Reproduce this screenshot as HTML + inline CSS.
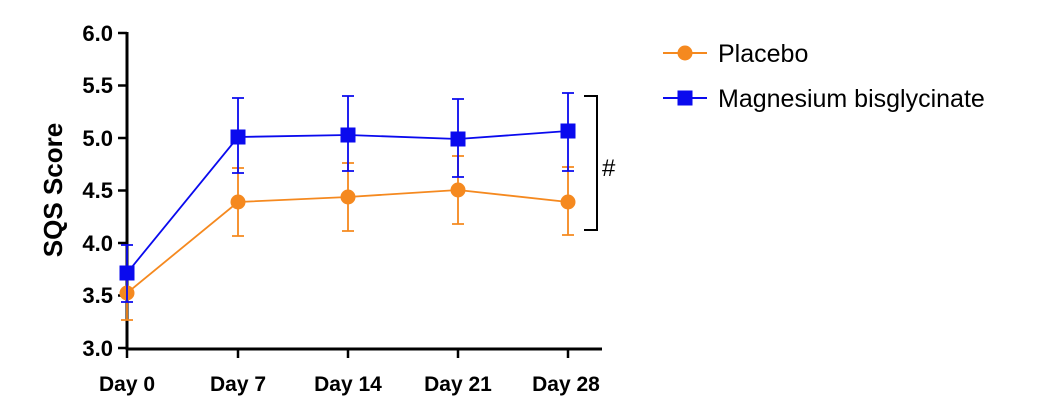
<!DOCTYPE html>
<html><head><style>body{margin:0;background:#fff}</style></head><body>
<svg width="1040" height="408" xmlns="http://www.w3.org/2000/svg" font-family="Liberation Sans, Arial, sans-serif">
<g stroke="#000" stroke-width="3" fill="none">
<line x1="127" y1="32" x2="127" y2="350"/>
<line x1="126" y1="349" x2="602" y2="349"/>
<g stroke-width="2.5">
<line x1="118" y1="33" x2="127" y2="33"/><line x1="118" y1="85.5" x2="127" y2="85.5"/><line x1="118" y1="138" x2="127" y2="138"/><line x1="118" y1="190.5" x2="127" y2="190.5"/><line x1="118" y1="243" x2="127" y2="243"/><line x1="118" y1="295.5" x2="127" y2="295.5"/><line x1="118" y1="348" x2="127" y2="348"/>
<line x1="127" y1="349" x2="127" y2="358"/><line x1="238" y1="349" x2="238" y2="358"/><line x1="348" y1="349" x2="348" y2="358"/><line x1="458" y1="349" x2="458" y2="358"/><line x1="568" y1="349" x2="568" y2="358"/>
</g>
<polyline stroke-width="2" points="584,96 597,96 597,230 584,230"/>
</g>
<g font-size="22" font-weight="bold" text-anchor="end" fill="#000">
<text x="113" y="41">6.0</text><text x="113" y="93">5.5</text><text x="113" y="146">5.0</text><text x="113" y="198">4.5</text><text x="113" y="251">4.0</text><text x="113" y="303">3.5</text><text x="113" y="356">3.0</text>
</g>
<g font-size="21" font-weight="bold" text-anchor="middle">
<text x="127" y="391">Day 0</text><text x="238" y="391">Day 7</text><text x="348" y="391">Day 14</text><text x="458" y="391">Day 21</text><text x="566" y="391">Day 28</text>
</g>
<text transform="translate(62,190) rotate(-90)" font-size="26" font-weight="bold" text-anchor="middle">SQS Score</text>
<text x="602" y="176" font-size="24">#</text>
<!-- placebo -->
<g stroke="#f5891f" stroke-width="1.8" fill="none">
<path d="M127,320V267M121,320h12M121,267h12 M238,236V168M232,236h12M232,168h12 M348,231V163M342,231h12M342,163h12 M458,224V156M452,224h12M452,156h12 M568,235V167M562,235h12M562,167h12"/>
<polyline points="127,293 238,202 348,197 458,190 568,202"/>
</g>
<g fill="#f5891f"><circle cx="127" cy="293" r="7.5"/><circle cx="238" cy="202" r="7.5"/><circle cx="348" cy="197" r="7.5"/><circle cx="458" cy="190" r="7.5"/><circle cx="568" cy="202" r="7.5"/></g>
<!-- mg -->
<g stroke="#0a0aee" stroke-width="1.8" fill="none">
<path d="M127,302V245M121,302h12M121,245h12 M238,173V98M232,173h12M232,98h12 M348,171V96M342,171h12M342,96h12 M458,177V99M452,177h12M452,99h12 M568,171V93M562,171h12M562,93h12"/>
<polyline points="127,273 238,137 348,135 458,139 568,131"/>
</g>
<g fill="#0a0aee"><rect x="119.5" y="265.5" width="15" height="15"/><rect x="230.5" y="129.5" width="15" height="15"/><rect x="340.5" y="127.5" width="15" height="15"/><rect x="450.5" y="131.5" width="15" height="15"/><rect x="560.5" y="123.5" width="15" height="15"/></g>
<!-- legend -->
<line x1="663" y1="53" x2="707" y2="53" stroke="#f5891f" stroke-width="2"/><circle cx="685" cy="53" r="7.5" fill="#f5891f"/>
<text x="718" y="62" font-size="25">Placebo</text>
<line x1="663" y1="98" x2="707" y2="98" stroke="#0a0aee" stroke-width="2"/><rect x="677.5" y="90.5" width="15" height="15" fill="#0a0aee"/>
<text x="718" y="107" font-size="25">Magnesium bisglycinate</text>
</svg>
</body></html>
